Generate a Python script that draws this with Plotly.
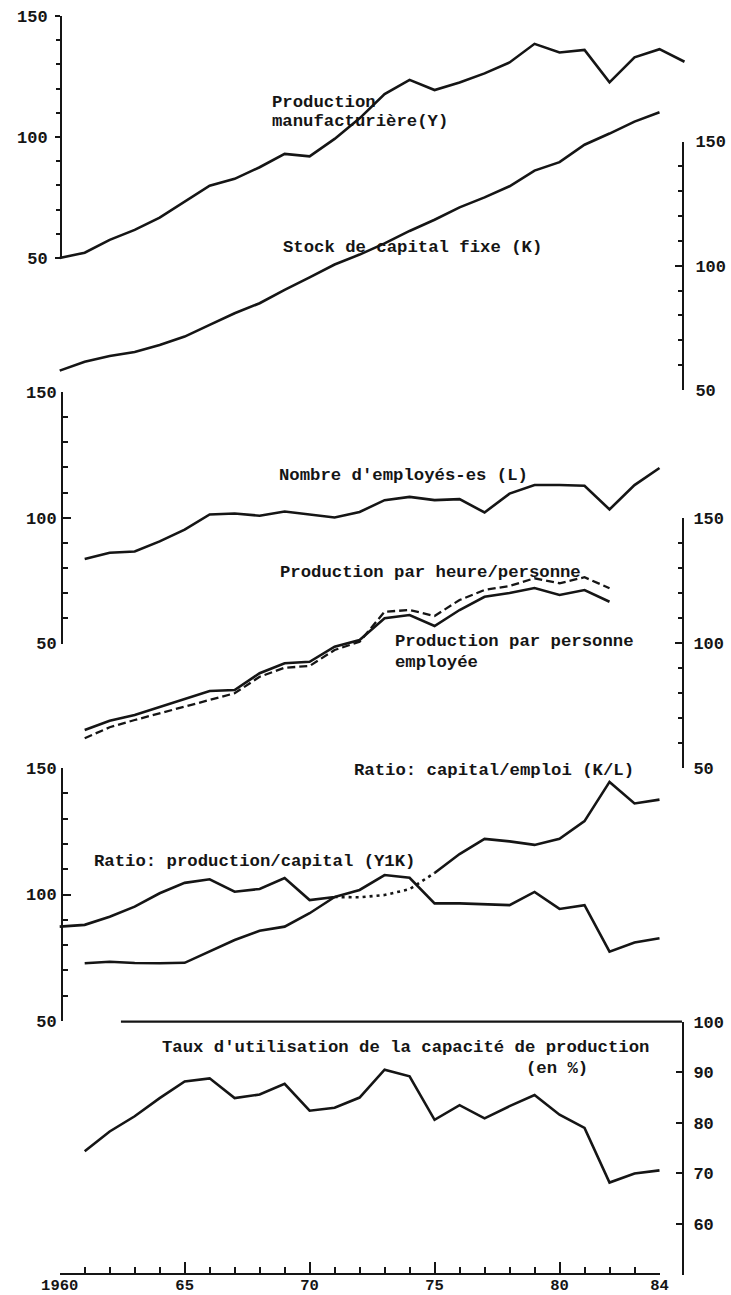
import plotly.graph_objects as go

W, H = 731, 1295
INK = "#151515"
FONT = "Liberation Mono"

# ---------------- data ----------------
years_Y = list(range(1960, 1986))
prod_manuf_Y = [50.0, 52.2, 57.5, 61.6, 66.7, 73.2, 79.9, 82.7, 87.5, 93.0, 92.0, 99.2, 107.7,
                117.7, 123.6, 119.4, 122.5, 126.3, 130.8, 138.5, 134.9, 136.0, 122.6, 132.9,
                136.3, 131.1]

years_K = list(range(1960, 1985))
capital_K = [57.8, 61.4, 63.7, 65.3, 68.1, 71.5, 76.2, 80.9, 84.9, 90.3, 95.3, 100.5, 104.5,
             109.0, 114.0, 118.5, 123.5, 127.5, 132.0, 138.3, 141.7, 148.7, 153.2, 158.0, 161.8]

years_L = list(range(1961, 1985))
emploi_L = [83.6, 86.1, 86.6, 90.6, 95.3, 101.3, 101.7, 100.8, 102.5, 101.2, 100.1, 102.3,
            107.0, 108.3, 107.0, 107.4, 102.1, 109.6, 113.0, 113.0, 112.7, 103.3, 113.0, 119.8]

years_prod = list(range(1961, 1983))
prod_par_personne = [65.2, 68.9, 71.2, 74.5, 77.5, 80.8, 81.2, 87.9, 91.9, 92.5, 98.5, 101.2,
                     109.9, 111.2, 106.8, 113.2, 118.5, 120.0, 122.0, 119.2, 121.2, 116.5]
prod_par_heure = [61.9, 66.3, 69.2, 71.9, 74.3, 77.2, 79.9, 86.5, 90.1, 90.8, 97.2, 100.5,
                  112.5, 113.2, 110.8, 117.2, 121.2, 122.8, 125.9, 123.9, 126.3, 121.9]

years_YK = list(range(1960, 1985))
ratio_YK = [87.3, 88.0, 91.2, 95.2, 100.5, 104.6, 106.0, 101.1, 102.2, 106.5, 97.8, 99.0,
            101.8, 107.7, 106.6, 96.5, 96.5, 96.1, 95.8, 101.0, 94.3, 95.8, 77.4, 81.0, 82.7]

years_KL_a = list(range(1961, 1972))
ratio_KL_a = [72.8, 73.4, 72.9, 72.8, 73.0, 77.5, 82.0, 85.7, 87.3, 92.6, 99.0]
years_KL_b = list(range(1971, 1976))          # dotted part
ratio_KL_b = [99.0, 98.9, 99.8, 102.1, 108.5]
years_KL_c = list(range(1975, 1985))
ratio_KL_c = [108.5, 116.0, 122.0, 121.0, 119.6, 122.0, 129.0, 144.5, 136.0, 137.5]

years_util = list(range(1961, 1985))
taux_util = [74.4, 78.3, 81.3, 84.9, 88.2, 88.8, 84.9, 85.6, 87.7, 82.4, 83.0, 85.0, 90.5,
             89.2, 80.6, 83.5, 80.9, 83.3, 85.5, 81.6, 79.0, 68.2, 70.0, 70.6]
util_ref_years = [1962.45, 1984.9]
util_ref = [100, 100]

x_tickvals = [1960, 1965, 1970, 1975, 1980, 1984]
x_ticktext = ["1960", "65", "70", "75", "80", "84"]

# ---------------- calibration helpers ----------------
def fy(p):
    return 1 - p / H

def fx(p):
    return p / W

X0_PX, X1_PX = 59.7, 659.5          # pixel of 1960 and 1984
PPY = (X1_PX - X0_PX) / 24.0
x_full_range = [1960 - X0_PX / PPY, 1960 + (W - X0_PX) / PPY]

def full_range(v_top, p_top, v_bot, p_bot):
    s = (v_top - v_bot) / (p_bot - p_top)
    return [v_bot - (H - p_bot) * s, v_top + p_top * s]

# panels: (v_top, px_top, v_bottom, px_bottom)
cal = {
    "Y":    (150, 16.0, 50, 258.0),
    "K":    (150, 141.5, 50, 390.0),
    "L":    (150, 392.0, 50, 643.5),
    "P":    (150, 518.0, 50, 768.0),
    "R":    (150, 768.0, 50, 1021.0),
    "U":    (100, 1021.7, 50, 1274.6),
}
LEFT_X = 61.0
RIGHT_X = 683.0

fig = go.Figure()

# data axes: y7 (base) .. y12 (overlaying y7)
data_axes = {"Y": "y7", "K": "y8", "L": "y9", "P": "y10", "R": "y11", "U": "y12"}

def line(x, y, key, dash="solid", width=2.6):
    fig.add_trace(go.Scatter(x=x, y=y, xaxis="x2", yaxis=data_axes[key], mode="lines",
                             line=dict(color=INK, width=width, dash=dash),
                             hoverinfo="skip", showlegend=False))

line(years_Y, prod_manuf_Y, "Y")
line(years_K, capital_K, "K")
line(years_L, emploi_L, "L")
line(years_prod, prod_par_personne, "P")
line(years_prod, prod_par_heure, "P", dash="8px,4px", width=2.3)
line(years_YK, ratio_YK, "R")
line(years_KL_a, ratio_KL_a, "R")
line(years_KL_b, ratio_KL_b, "R", dash="3px,4px", width=2.6)
line(years_KL_c, ratio_KL_c, "R")
line(years_util, taux_util, "U")
line(util_ref_years, util_ref, "U", width=2.2)

# empty traces so that the visible axes get drawn
for ax in ["y", "y2", "y3", "y4", "y5", "y6"]:
    fig.add_trace(go.Scatter(x=[None], y=[None], xaxis="x", yaxis=ax, mode="lines",
                             hoverinfo="skip", showlegend=False))

tickfont = dict(family=FONT, size=17, color=INK, weight="bold")

layout = dict(
    template="none",
    width=W, height=H, margin=dict(l=0, r=0, t=0, b=0, pad=0), autosize=False,
    paper_bgcolor="white", plot_bgcolor="rgba(0,0,0,0)", showlegend=False,
    xaxis=dict(domain=[fx(X0_PX), fx(X1_PX)], range=[1960, 1984], anchor="free",
               position=fy(1274.0), showline=True, linecolor=INK, linewidth=2,
               ticks="inside", ticklen=11, tickwidth=2, tickcolor=INK,
               tickvals=x_tickvals, ticktext=x_ticktext,
               tickfont=dict(family=FONT, size=15.5, color=INK, weight="bold"),
               ticklabelstandoff=-4,
               minor=dict(ticks="inside", ticklen=6, tickwidth=2, tickcolor=INK,
                          dtick=1, tick0=1960, showgrid=False),
               showgrid=False, zeroline=False, fixedrange=True, automargin=False),
    xaxis2=dict(domain=[0, 1], range=x_full_range, visible=False, anchor="y7",
                fixedrange=True, automargin=False, showgrid=False, zeroline=False),
)

for key, ax in data_axes.items():
    vt, pt, vb, pb = cal[key]
    d = dict(range=full_range(vt, pt, vb, pb), visible=False, anchor="x2",
             fixedrange=True, automargin=False, showgrid=False, zeroline=False)
    if ax == "y7":
        d["domain"] = [0, 1]
    else:
        d["overlaying"] = "y7"
    layout[ax.replace("y", "yaxis")] = d

def vis_axis(key, side, pos_px, ticks, ticklen, minor_len, standoff,
             tickvals=None, ticktext=None, minor=True):
    vt, pt, vb, pb = cal[key]
    d = dict(domain=[fy(pb), fy(pt)], range=[vb, vt], anchor="free",
             position=fx(pos_px), side=side, showline=True, linecolor=INK, linewidth=2,
             ticks=ticks, ticklen=ticklen, tickwidth=2, tickcolor=INK,
             tickvals=tickvals if tickvals else [50, 100, 150],
             tickfont=tickfont, ticklabelstandoff=standoff,
             showgrid=False, zeroline=False, fixedrange=True, automargin=False)
    if ticktext:
        d["ticktext"] = ticktext
    if minor:
        d["minor"] = dict(ticks=ticks, ticklen=minor_len, tickwidth=2, tickcolor=INK,
                          dtick=10, tick0=50, showgrid=False)
    return d

layout["yaxis"] = vis_axis("Y", "left", LEFT_X, "outside", 5, 4, 4)
layout["yaxis2"] = vis_axis("K", "right", RIGHT_X, "inside", 7, 4, 8)
layout["yaxis3"] = vis_axis("L", "left", LEFT_X + 1, "inside", 8, 5, 1)
layout["yaxis4"] = vis_axis("P", "right", RIGHT_X, "inside", 7, 4, 6)
layout["yaxis5"] = vis_axis("R", "left", LEFT_X + 1, "inside", 8, 5, 1)
layout["yaxis6"] = vis_axis("U", "right", RIGHT_X, "inside", 6, 0, 6,
                            tickvals=[50, 60, 70, 80, 90, 100],
                            ticktext=["", "60", "70", "80", "90", "100"], minor=False)

fig.update_layout(**layout)

labels = [
    ("Production", 271, 102),
    ("manufacturière(Y)", 271, 122),
    ("Stock de capital fixe (K)", 282, 247.5),
    ("Nombre d'employés-es (L)", 278, 475.5),
    ("Production par heure/personne", 279, 572),
    ("Production par personne", 394, 641.5),
    ("employée", 394, 662),
    ("Ratio: capital/emploi (K/L)", 353, 770.5),
    ("Ratio: production/capital (Y1K)", 93, 861.5),
    ("Taux d'utilisation de la capacité de production", 161, 1047.5),
    ("(en %)", 525, 1068),
]
for txt, lx, ly in labels:
    fig.add_annotation(text=txt, x=fx(lx), y=fy(ly), xref="paper", yref="paper",
                       xanchor="left", yanchor="middle", showarrow=False,
                       font=dict(family=FONT, size=17.3, color=INK, weight="bold"),
                       borderpad=0)

fig.write_html("out.html", config={"displayModeBar": False, "staticPlot": True},
               post_script="document.body.style.margin='0';")
